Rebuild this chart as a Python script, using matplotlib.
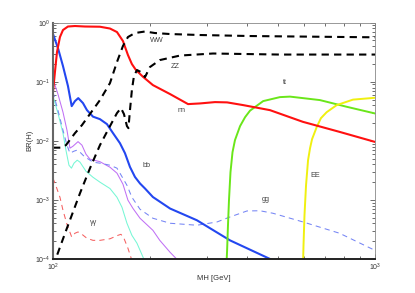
import numpy as np
import matplotlib
matplotlib.use('Agg')
import matplotlib.pyplot as plt
from matplotlib.ticker import LogLocator, NullFormatter, LogFormatterMathtext

plt.rcParams['font.family'] = ['Liberation Sans', 'DejaVu Sans']
plt.rcParams['mathtext.fontset'] = 'custom'
plt.rcParams['mathtext.rm'] = 'Liberation Sans'

# Higgs branching ratios (MH in GeV)
m_nn = [100, 101.4, 102.9, 105.1, 107.4, 111.3, 117.0, 125.7, 139.9, 150.3, 158.0, 164.9, 170.9,
        175.8, 181.0, 190.3, 204.3, 231.0, 262.7, 286.1, 318.5, 347.3, 389.5, 471.9, 597, 776, 1000]
br_nn = [0.0669, 0.146, 0.319, 0.572, 0.752, 0.862, 0.879, 0.862, 0.855, 0.797, 0.695, 0.490, 0.284,
         0.1995, 0.158, 0.1216, 0.0879, 0.0619, 0.0419, 0.043, 0.0453, 0.0448, 0.0403, 0.0331, 0.0210,
         0.0142, 0.0096]

m_ww = [100, 106.6, 109.7, 117.0, 123.0, 139.9, 150.3, 158.0, 164.9, 170.9, 179.7, 193.1, 207.2,
        231, 286, 409, 585, 1000]
br_ww = [0.00767, 0.00767, 0.00846, 0.0135, 0.01845, 0.049, 0.0951, 0.216, 0.403, 0.572, 0.669,
         0.710, 0.669, 0.643, 0.619, 0.595, 0.583, 0.566]

m_zz = [100, 109.0, 121.3, 130.3, 139.9, 150.3, 158.0, 162.6, 166.1, 169.7, 171.5, 173.4, 175.8,
        178.4, 182.3, 187.6, 193.1, 200, 214.6, 248, 314, 506, 1000]
br_zz = [7.5e-5, 2.73e-4, 1.30e-3, 3.45e-3, 8.46e-3, 0.01775, 0.0295, 0.0358, 0.0284, 0.01775,
         0.0164, 0.0331, 0.0723, 0.125, 0.158, 0.146, 0.120, 0.1775, 0.233, 0.278, 0.301, 0.289, 0.289]

m_bb = [100, 103.6, 107.4, 111.3, 114.3, 117.0, 119.8, 123.9, 127.5, 133.1, 139.9, 147.1, 153.6,
        161.4, 167.3, 173.4, 179.7, 186.3, 193.1, 204.3, 231.0, 279.8, 354.5, 482, 584.8]
br_bb = [0.643, 0.373, 0.1845, 0.0846, 0.0387, 0.0471, 0.0529, 0.0436, 0.0331, 0.0257, 0.0233,
         0.0192, 0.01351, 0.00914, 0.00619, 0.00362, 0.00245, 0.0019, 0.00156, 0.00112, 0.000715,
         0.000453, 0.000207, 0.000095, 5.95e-5]

m_cc = [100, 103.6, 107.4, 110.5, 112.9, 115.4, 119.6, 123.0, 126.6, 130.3, 139.9, 150.3, 158.0,
        164.9, 170.9, 177.1, 186.3, 204.3, 214.6, 231.0, 244.3, 256.9]
br_cc = [0.111, 0.0619, 0.0306, 0.01518, 0.00752, 0.00813, 0.0097, 0.00846, 0.00595, 0.0049,
         0.00444, 0.00358, 0.00284, 0.00185, 0.00099, 0.00072, 0.00049, 0.000306, 0.000207,
         0.00013, 0.000095, 0.0000643]

m_ss = [100, 103.6, 107.4, 109.7, 112.1, 114.1, 116.2, 118.9, 121.3, 126.6, 133.1, 139.9, 150.3,
        158.0, 163.8, 169.7, 175.8, 182.3, 190.3, 195.9]
br_ss = [0.0572, 0.0295, 0.01351, 0.00696, 0.00387, 0.00345, 0.00419, 0.00471, 0.00436, 0.00306,
         0.00242, 0.002, 0.00156, 0.00111, 0.00075, 0.000403, 0.000252, 0.000185, 0.000108, 0.0000752]

m_gg = [100, 103.6, 107.4, 110.5, 112.9, 116.2, 118.7, 121.3, 124.8, 133.1, 139.9, 150.3, 158.0,
        161.4, 169.7, 175.8, 186.3, 204.3, 231.0, 279.8, 323.2, 354.5, 400.5, 439.5, 482, 597.6,
        776, 1000]
br_gg = [0.0669, 0.0331, 0.01518, 0.00846, 0.00619, 0.00669, 0.00696, 0.00643, 0.0055, 0.00436,
         0.00419, 0.00387, 0.00345, 0.00284, 0.00177, 0.00111, 0.000696, 0.00049, 0.000403,
         0.000373, 0.000424, 0.000515, 0.000651, 0.000656, 0.000595, 0.000424, 0.000273, 0.00014]

m_yy = [100, 102.2, 105.1, 107.4, 110.5, 114.3, 117.0, 119.6, 123.0, 127.5, 133.1, 139.9, 150.3,
        159.2, 162.6, 166.1, 170.9, 175.8, 178.4]
br_yy = [0.00233, 0.00171, 0.00111, 0.000669, 0.000387, 0.000236, 0.000273, 0.000287, 0.000262,
         0.000224, 0.000207, 0.000207, 0.00022, 0.000252, 0.000262, 0.000224, 0.000152, 0.000095,
         0.0000696]

m_tt = [345.6, 347.3, 349.5, 352.0, 355.8, 361, 367.4, 381.0, 395, 409.2, 449.5, 506.6, 544.5,
        674.4, 817.7, 1000]
br_tt = [7.82e-5, 0.00014, 0.000373, 0.00099, 0.00295, 0.00643, 0.01028, 0.01775, 0.0252, 0.0325,
         0.0471, 0.055, 0.0561, 0.049, 0.0377, 0.0291]

m_ee = [597.6, 599.8, 604, 610.7, 619.6, 628.5, 637.6, 659.6, 679.3, 707.9, 760.6, 854.6, 1000]
br_ee = [7.82e-5, 0.000171, 0.00055, 0.00177, 0.00471, 0.00752, 0.01069, 0.01727, 0.0242, 0.0306,
         0.0403, 0.0499, 0.0536]

labels = ['WW', 'ZZ', 'nn', 'tt', 'bb', 'gg', 'EE', 'γγ']
label_m = [210, 239, 251, 525, 194.5, 459, 651, 134]
label_br = [0.495, 0.1845, 0.0322, 0.096, 0.00387, 0.00103, 0.00255, 0.000407]

fig = plt.figure(figsize=(4.15, 2.93), dpi=100)
ax = fig.add_axes([0.1277, 0.116, 0.7759, 0.8065])

# thin curves first
ax.plot(m_ss, br_ss, color='#77f7d5', lw=0.75)
ax.plot(m_cc, br_cc, color='#c070f5', lw=0.75)
ax.plot(m_gg, br_gg, color='#7585f5', lw=0.75, dashes=(5, 4))
ax.plot(m_yy, br_yy, color='#f56060', lw=0.75, dashes=(5, 4))
# thick curves
ax.plot(m_bb, br_bb, color='#2347f0', lw=1.5)
ax.plot(m_tt, br_tt, color='#6ae61a', lw=1.4)
ax.plot(m_ee, br_ee, color='#f0f010', lw=1.4)
ax.plot(m_nn, br_nn, color='#ff1010', lw=1.5)
ax.plot(m_ww, br_ww, color='black', lw=1.5, dashes=(3.5, 2.5))
ax.plot(m_zz, br_zz, color='black', lw=1.5, dashes=(3.5, 2.5))

for txt, x, y in zip(labels, label_m, label_br):
    ax.text(x, y, txt, fontsize=5.2, color='#444444', ha='center', va='center')

ax.set_xscale('log')
ax.set_yscale('log')
ax.set_xlim(100, 1000)
ax.set_ylim(1e-4, 1)

ax.xaxis.set_major_locator(LogLocator(base=10, numticks=5))
ax.xaxis.set_minor_locator(LogLocator(base=10, subs=np.arange(2, 10), numticks=10))
ax.xaxis.set_minor_formatter(NullFormatter())
ax.xaxis.set_major_formatter(LogFormatterMathtext())
ax.yaxis.set_minor_locator(LogLocator(base=10, subs=np.arange(2, 10), numticks=10))
ax.yaxis.set_minor_formatter(NullFormatter())

ax.tick_params(which='both', direction='in', top=True, right=True, labelsize=5, colors='#333333',
               width=0.5, pad=2)
ax.tick_params(which='major', length=3.5)
ax.tick_params(which='minor', length=2)

ax.spines['left'].set_linewidth(1.5)
ax.spines['left'].set_color('#666666')
ax.spines['bottom'].set_linewidth(1.4)
ax.spines['bottom'].set_color('#222222')
ax.spines['top'].set_linewidth(0.6)
ax.spines['top'].set_color('#888888')
ax.spines['right'].set_linewidth(0.6)
ax.spines['right'].set_color('#888888')

ax.set_xlabel('MH [GeV]', fontsize=5.5, color='#333333', labelpad=1.5)
ax.set_ylabel('BR(H)', fontsize=5.5, color='#333333', labelpad=1)

fig.savefig('out.png', dpi=100)
